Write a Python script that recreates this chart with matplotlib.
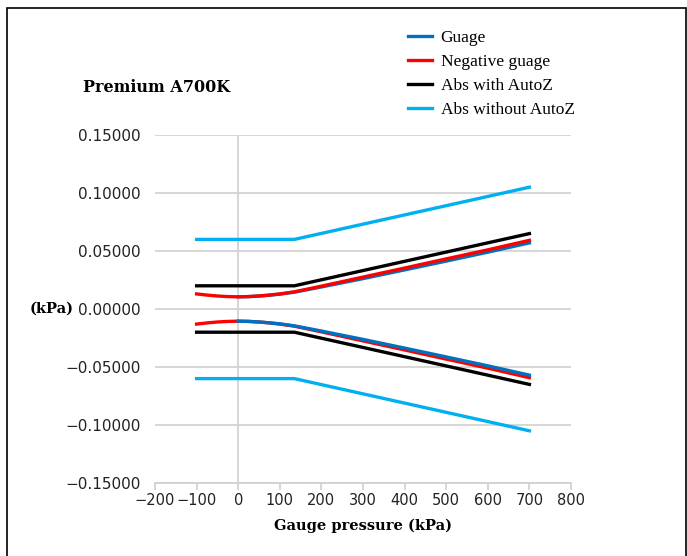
import matplotlib
matplotlib.use('Agg')
import matplotlib.pyplot as plt
from matplotlib.ticker import FuncFormatter, MultipleLocator
from matplotlib.patches import Rectangle

# pressure points (kPa)
p_full = [-100, -75, -50, -25, 0, 25, 50, 75, 100, 135, 200, 300, 400, 500, 600, 700]
p_pos = [0, 25, 50, 75, 100, 135, 200, 300, 400, 500, 600, 700]
p_abs = [-100, 135, 700]

# error limits (kPa)
guage_up = [0.0105, 0.0107, 0.0112, 0.0119, 0.0128, 0.0145, 0.0190, 0.0262, 0.0337, 0.0413, 0.0490, 0.0570]
guage_lo = [-0.0105, -0.0107, -0.0112, -0.0119, -0.0128, -0.0145, -0.0190, -0.0262, -0.0337, -0.0413, -0.0490, -0.0570]
neg_up = [0.0130, 0.0120, 0.0112, 0.0107, 0.0105, 0.0107, 0.0112, 0.0120, 0.0130, 0.0148,
          0.0197, 0.0275, 0.0353, 0.0432, 0.0510, 0.0592]
neg_lo = [-0.0130, -0.0120, -0.0112, -0.0107, -0.0105, -0.0107, -0.0112, -0.0120, -0.0130, -0.0148,
          -0.0197, -0.0275, -0.0353, -0.0432, -0.0510, -0.0592]
abs_az_up = [0.020, 0.020, 0.065]
abs_az_lo = [-0.020, -0.020, -0.065]
abs_noaz_up = [0.060, 0.060, 0.105]
abs_noaz_lo = [-0.060, -0.060, -0.105]

c_guage = '#0070c0'
c_neg = '#ff0000'
c_az = '#000000'
c_noaz = '#00b0f0'
lw = 2.4

fig = plt.figure(figsize=(6.87, 5.56), dpi=100)
ax = fig.add_axes([155/687, 1-483/556, (571-155)/687, (483-135)/556])

ax.plot(p_pos, guage_up, color=c_guage, lw=lw, label='Guage', zorder=3)
ax.plot(p_full, neg_up, color=c_neg, lw=lw, label='Negative guage', zorder=4)
ax.plot(p_full, neg_lo, color=c_neg, lw=lw, zorder=3)
ax.plot(p_pos, guage_lo, color=c_guage, lw=lw, zorder=4)
ax.plot(p_abs, abs_az_up, color=c_az, lw=lw, label='Abs with AutoZ', zorder=3)
ax.plot(p_abs, abs_az_lo, color=c_az, lw=lw, zorder=3)
ax.plot(p_abs, abs_noaz_up, color=c_noaz, lw=lw, label='Abs without AutoZ', zorder=3)
ax.plot(p_abs, abs_noaz_lo, color=c_noaz, lw=lw, zorder=3)

ax.set_xlim(-200, 800)
ax.set_ylim(-0.15, 0.15)
ax.xaxis.set_major_locator(MultipleLocator(100))
ax.yaxis.set_major_locator(MultipleLocator(0.05))

def yfmt(v, pos):
    if abs(v) < 1e-9:
        v = 0.0
    return f"{v:.5f}".replace('-', '\u2212')

def xfmt(v, pos):
    return f"{v:.0f}".replace('-', '\u2212')

ax.yaxis.set_major_formatter(FuncFormatter(yfmt))
ax.xaxis.set_major_formatter(FuncFormatter(xfmt))

grid_c = '#d0d0d0'
ax.grid(axis='y', color=grid_c, lw=1.2)
ax.axvline(0, color=grid_c, lw=1.2, zorder=1)
ax.set_axisbelow(True)
for s in ['top', 'right', 'left']:
    ax.spines[s].set_visible(False)
ax.spines['bottom'].set_color(grid_c)
ax.spines['bottom'].set_linewidth(1.2)
ax.spines['bottom'].set_zorder(1)
ax.tick_params(axis='y', length=0, pad=10, labelsize=11, labelcolor='#222222')
ax.tick_params(axis='x', length=5, color=grid_c, width=1.2, pad=2, labelsize=10.5, labelcolor='#222222')

ax.set_xlabel('Gauge pressure (kPa)', fontsize=10.5, fontweight='bold', family='DejaVu Serif', labelpad=8)
fig.text(30/687, 1-309/556, '(kPa)', fontsize=10.5, fontweight='bold', family='DejaVu Serif', va='center', ha='left')
fig.text(83/687, 1-87/556, 'Premium A700K', fontsize=11.5, fontweight='bold', family='DejaVu Serif', va='center', ha='left')

fig.legend(loc='upper left', bbox_to_anchor=(392/687, 1-14/556), frameon=False,
           handlelength=1.4, handletextpad=0.5, labelspacing=0.45,
           prop={'family': 'Liberation Serif', 'size': 12.5})

# outer frame
fig.patches.append(Rectangle((7/687, -0.05), (686-7)/687, 1-8/556+0.05, transform=fig.transFigure,
                             fill=False, edgecolor='black', lw=1.2))

fig.savefig('out.png', dpi=100)
